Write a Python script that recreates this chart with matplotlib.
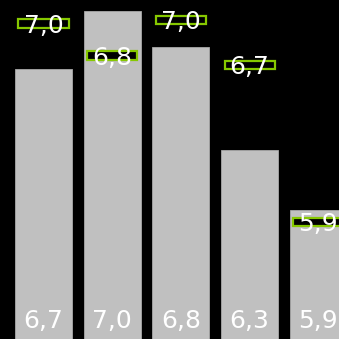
import matplotlib
matplotlib.use("Agg")
import matplotlib.pyplot as plt
from matplotlib.patches import Rectangle
from matplotlib.transforms import offset_copy

categories = ["A", "B", "C", "D", "E"]
actual = [6.70, 7.02, 6.82, 6.26, 5.93]
target = [6.95, 6.776, 6.97, 6.724, 5.864]

def fmt(v):
    return f"{v:.1f}".replace(".", ",")

fig = plt.figure(figsize=(3.39, 3.39), dpi=100, facecolor="black")
ax = fig.add_axes([0, 0, 1, 1])
ax.set_facecolor("black")

x = list(range(len(categories)))
ax.bar(x, actual, width=0.83, color="#c0c0c0", edgecolor="#a8a8a8", linewidth=0.6, zorder=2)

ax.set_xlim(-0.633, 4.30)
ax.set_ylim(5.224, 7.08)

down = offset_copy(ax.transData, fig=fig, x=0, y=-2, units="dots")
rw, rh = 0.73, 0.048
for xi, t in zip(x, target):
    ax.add_patch(Rectangle((xi - rw / 2, t - rh / 2), rw, rh, facecolor="black",
                           edgecolor="#86c800", linewidth=1.6, zorder=3))
    ax.text(xi, t, fmt(t), color="white", ha="center", va="center",
            fontsize=18, zorder=4, family="DejaVu Sans", transform=down)

for xi, v in zip(x, actual):
    ax.text(xi, 5.285, fmt(v), color="white", ha="center", va="baseline",
            fontsize=18, zorder=4, family="DejaVu Sans")

ax.axis("off")
fig.savefig("out.png", dpi=100, facecolor="black")
